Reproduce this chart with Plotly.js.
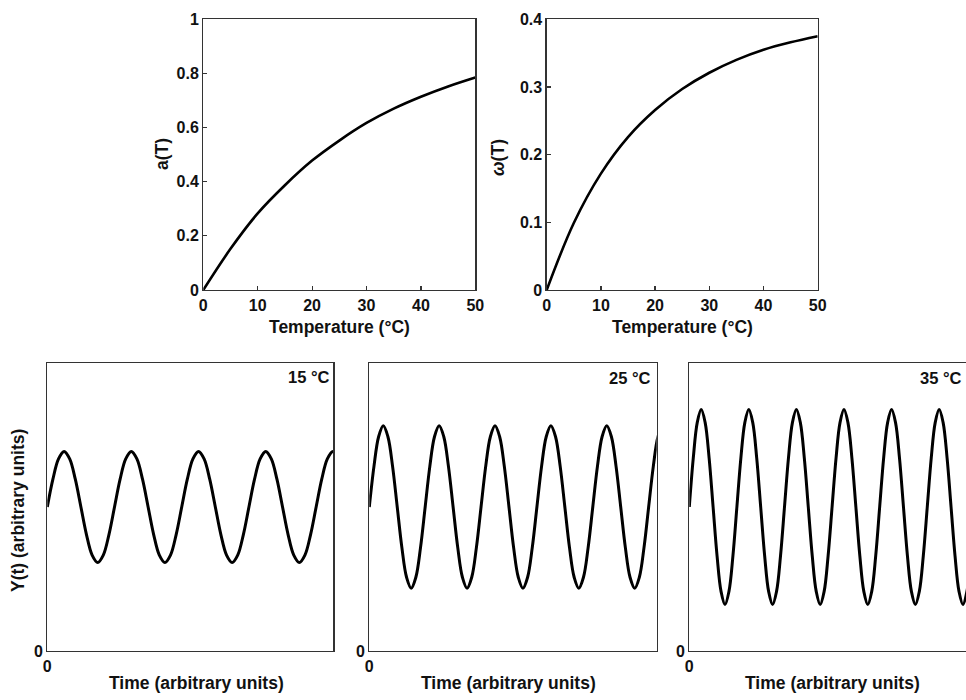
<!DOCTYPE html>
<html><head><meta charset="utf-8">
<script src="https://cdn.plot.ly/plotly-3.0.1.min.js"></script>
<style>html,body{margin:0;padding:0;overflow:hidden;background:#fff;width:966px;height:700px}</style>
</head><body><div id="chart" style="width:980px;height:700px"></div>
<script>
// Top panels: temperature dependence
const temperature = [0, 5, 10, 15, 20, 25, 30, 35, 40, 45, 50];
const aT = [0, 0.152, 0.283, 0.387, 0.478, 0.552, 0.617, 0.670, 0.714, 0.752, 0.785];
const omegaT = [0, 0.099, 0.172, 0.226, 0.266, 0.297, 0.321, 0.340, 0.355, 0.366, 0.375];
const tempTicks = [0, 10, 20, 30, 40, 50];
const tempTickText = ['0', '10', '20', '30', '40', '50'];
const aTicks = [0, 0.2, 0.4, 0.6, 0.8, 1];
const aTickText = ['0', '0.2', '0.4', '0.6', '0.8', '1'];
const omegaTicks = [0, 0.1, 0.2, 0.3, 0.4];
const omegaTickText = ['0', '0.1', '0.2', '0.3', '0.4'];

// Bottom panels: Y(t) read at twelfth-period points
const time15 = [0, 1.96, 3.92, 5.875, 7.83, 9.79, 11.75, 13.71, 15.67, 17.625, 19.58, 21.54,
  23.5, 25.46, 27.42, 29.375, 31.33, 33.29, 35.25, 37.21, 39.17, 41.125, 43.08, 45.04,
  47.0, 48.96, 50.92, 52.875, 54.83, 56.79, 58.75, 60.71, 62.67, 64.625, 66.58, 68.54,
  70.5, 72.46, 74.42, 76.375, 78.33, 80.29, 82.25, 84.21, 86.17, 88.125, 90.08, 92.04,
  94.0, 95.96, 97.92, 99.875, 101.83];
const y15 = [1, 1.193, 1.334, 1.386, 1.334, 1.193, 1, 0.807, 0.666, 0.614, 0.666, 0.807,
  1, 1.193, 1.334, 1.386, 1.334, 1.193, 1, 0.807, 0.666, 0.614, 0.666, 0.807,
  1, 1.193, 1.334, 1.386, 1.334, 1.193, 1, 0.807, 0.666, 0.614, 0.666, 0.807,
  1, 1.193, 1.334, 1.386, 1.334, 1.193, 1, 0.807, 0.666, 0.614, 0.666, 0.807,
  1, 1.193, 1.334, 1.386, 1.334];

const time25 = [0, 1.62, 3.24, 4.86, 6.48, 8.10, 9.72, 11.34, 12.96, 14.58, 16.20, 17.82,
  19.44, 21.06, 22.68, 24.30, 25.92, 27.54, 29.16, 30.78, 32.40, 34.02, 35.64, 37.26,
  38.88, 40.50, 42.12, 43.74, 45.36, 46.98, 48.60, 50.22, 51.84, 53.46, 55.08, 56.70,
  58.32, 59.94, 61.56, 63.18, 64.80, 66.42, 68.04, 69.66, 71.28, 72.90, 74.52, 76.14,
  77.76, 79.38, 81.00, 82.62, 84.24, 85.86, 87.48, 89.10, 90.72, 92.34, 93.96, 95.58,
  97.20, 98.82, 100.44, 102.06];
const y25 = [1, 1.282, 1.488, 1.564, 1.488, 1.282, 1, 0.718, 0.512, 0.436, 0.512, 0.718,
  1, 1.282, 1.488, 1.564, 1.488, 1.282, 1, 0.718, 0.512, 0.436, 0.512, 0.718,
  1, 1.282, 1.488, 1.564, 1.488, 1.282, 1, 0.718, 0.512, 0.436, 0.512, 0.718,
  1, 1.282, 1.488, 1.564, 1.488, 1.282, 1, 0.718, 0.512, 0.436, 0.512, 0.718,
  1, 1.282, 1.488, 1.564, 1.488, 1.282, 1, 0.718, 0.512, 0.436, 0.512, 0.718,
  1, 1.282, 1.488, 1.564];

const time35 = [0, 1.38, 2.76, 4.14, 5.52, 6.90, 8.28, 9.66, 11.04, 12.42, 13.80, 15.18,
  16.56, 17.94, 19.32, 20.70, 22.08, 23.46, 24.84, 26.22, 27.60, 28.98, 30.36, 31.74,
  33.12, 34.50, 35.88, 37.26, 38.64, 40.02, 41.40, 42.78, 44.16, 45.54, 46.92, 48.30,
  49.68, 51.06, 52.44, 53.82, 55.20, 56.58, 57.96, 59.34, 60.72, 62.10, 63.48, 64.86,
  66.24, 67.62, 69.00, 70.38, 71.76, 73.14, 74.52, 75.90, 77.28, 78.66, 80.04, 81.42,
  82.80, 84.18, 85.56, 86.94, 88.32, 89.70, 91.08, 92.46, 93.84, 95.22, 96.60, 97.98,
  99.36, 100.74];
const y35 = [1, 1.339, 1.586, 1.677, 1.586, 1.339, 1, 0.661, 0.414, 0.323, 0.414, 0.661,
  1, 1.339, 1.586, 1.677, 1.586, 1.339, 1, 0.661, 0.414, 0.323, 0.414, 0.661,
  1, 1.339, 1.586, 1.677, 1.586, 1.339, 1, 0.661, 0.414, 0.323, 0.414, 0.661,
  1, 1.339, 1.586, 1.677, 1.586, 1.339, 1, 0.661, 0.414, 0.323, 0.414, 0.661,
  1, 1.339, 1.586, 1.677, 1.586, 1.339, 1, 0.661, 0.414, 0.323, 0.414, 0.661,
  1, 1.339, 1.586, 1.677, 1.586, 1.339, 1, 0.661, 0.414, 0.323, 0.414, 0.661,
  1, 1.339];

const panelLabels = ['15 °C', '25 °C', '35 °C'];

const W = 980, H = 700;
const FONT = 'Liberation Sans, Arial, Helvetica, sans-serif';
const px = v => v / W, py = v => 1 - v / H;
const LC = '#333';
const bold = arr => arr.map(s => '<b>' + s + '</b>');

const line = (w) => ({color: '#000', width: w, shape: 'spline', smoothing: 1, simplify: false});
const data = [
  {x: temperature, y: aT, xaxis: 'x', yaxis: 'y', mode: 'lines', line: line(2.6)},
  {x: temperature, y: omegaT, xaxis: 'x2', yaxis: 'y2', mode: 'lines', line: line(2.6)},
  {x: time15, y: y15, xaxis: 'x3', yaxis: 'y3', mode: 'lines', line: line(3)},
  {x: time25, y: y25, xaxis: 'x4', yaxis: 'y4', mode: 'lines', line: line(3)},
  {x: time35, y: y35, xaxis: 'x5', yaxis: 'y5', mode: 'lines', line: line(3)}
];

const tickfont = {family: FONT, size: 16, color: '#111', weight: 700};
function ax(extra) {
  return Object.assign({showline: true, mirror: true, linecolor: LC, linewidth: 1.3,
    showgrid: false, zeroline: false, tickfont: tickfont, fixedrange: true, tickmode: 'array'}, extra);
}
const topX = (dom, anchor) => ax({domain: dom, anchor: anchor, range: [0, 50], tickvals: tempTicks, ticktext: bold(tempTickText),
  ticks: 'inside', ticklen: 4, tickwidth: 1.2, tickcolor: LC});
const topY = (dom, anchor, rng, tv, tt) => ax({domain: dom, anchor: anchor, range: rng, tickvals: tv, ticktext: bold(tt),
  ticks: 'inside', ticklen: 4, tickwidth: 1.2, tickcolor: LC});
const botX = (dom, anchor) => ax({domain: dom, anchor: anchor, range: [0, 100], tickvals: [0], ticktext: bold(['0']), ticks: ''});
const botY = (dom, anchor) => ax({domain: dom, anchor: anchor, range: [0, 2], tickvals: [0], ticktext: bold(['0']), ticks: ''});

const topDomY = [py(290), py(19.3)];
const botDomY = [py(651), py(363)];

const titleFont = {family: FONT, size: 17.5, color: '#111', weight: 700};
const ann = (text, x, y, extra) => Object.assign({text: '<b>' + text + '</b>', xref: 'paper', yref: 'paper', x: x, y: y,
  showarrow: false, font: titleFont, xanchor: 'center', yanchor: 'middle'}, extra || {});
const labFont = Object.assign({}, titleFont, {size: 16.5});

const layout = {
  width: W, height: H, margin: {l: 0, r: 0, t: 0, b: 0},
  paper_bgcolor: '#fff', plot_bgcolor: '#fff', showlegend: false,
  xaxis: topX([px(203.3), px(475.3)], 'y'),
  yaxis: topY(topDomY, 'x', [0, 1], aTicks, aTickText),
  xaxis2: topX([px(546.7), px(817.7)], 'y2'),
  yaxis2: topY(topDomY, 'x2', [0, 0.4], omegaTicks, omegaTickText),
  xaxis3: botX([px(47.3), px(333.3)], 'y3'),
  yaxis3: botY(botDomY, 'x3'),
  xaxis4: botX([px(369.3), px(656.7)], 'y4'),
  yaxis4: botY(botDomY, 'x4'),
  xaxis5: botX([px(689.3), px(976.7)], 'y5'),
  yaxis5: botY(botDomY, 'x5'),
  annotations: [
    ann('Temperature (°C)', px(339), py(327)),
    ann('Temperature (°C)', px(682), py(327)),
    ann('a(T)', px(162), py(154), {textangle: -90}),
    ann('<i>ω</i>(T)', px(498), py(158), {textangle: -90}),
    ann('Y(t) (arbitrary units)', px(18), py(511), {textangle: -90}),
    ann('Time (arbitrary units)', px(196), py(683)),
    ann('Time (arbitrary units)', px(508), py(683)),
    ann('Time (arbitrary units)', px(832), py(683)),
    ann(panelLabels[0], px(332), py(377), {xanchor: 'right', font: labFont}),
    ann(panelLabels[1], px(653), py(378), {xanchor: 'right', font: labFont}),
    ann(panelLabels[2], px(964), py(378), {xanchor: 'right', font: labFont})
  ]
};

Plotly.newPlot('chart', data, layout, {displayModeBar: false, staticPlot: true});
</script></body></html>
